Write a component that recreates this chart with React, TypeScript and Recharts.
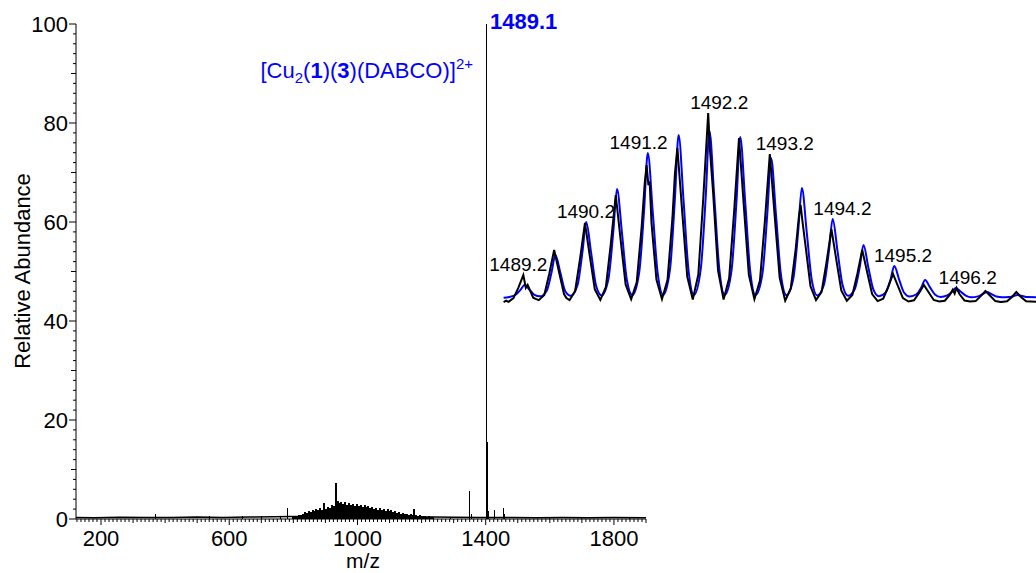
import React from 'react';
import { ComposedChart, Bar, Line, XAxis, YAxis, LabelList } from 'recharts';

const FONT = '"Liberation Sans", Arial, Helvetica, sans-serif';

// full scan: [m/z, relative abundance %]
const isolatedPeaks: [number, number][] = [
  [371, 1.0], [540, 0.6], [640, 0.6], [700, 0.7], [760, 0.6], [782, 2.2],
  [1290, 0.5], [1351, 5.6], [1356, 1.0], [1404, 100], [1405.5, 15.5],
  [1410, 1.7], [1429, 1.8], [1457, 2.2], [1460, 1.0], [1600, 0.5], [1700, 0.5], [1850, 0.5],
];

const clusterPeaks: [number, number][] = [
  [800, 0.6], [806, 0.7], [812, 0.6], [818, 0.9], [824, 0.8], [830, 1.1], [836, 1.4], [842, 1.2],
  [848, 1.7], [854, 1.5], [860, 1.9], [866, 1.6], [872, 2.0], [878, 1.8], [884, 2.2], [890, 1.9],
  [896, 3.2], [902, 2.1], [908, 2.5], [914, 2.3], [920, 2.8], [926, 2.6], [932, 7.3], [938, 3.6],
  [944, 3.2], [950, 3.5], [956, 3.1], [962, 3.4], [968, 2.9], [974, 3.2], [980, 2.8], [986, 3.1],
  [992, 2.7], [998, 3.0], [1004, 2.6], [1010, 2.9], [1016, 2.5], [1022, 2.8], [1028, 2.4], [1034, 2.6],
  [1040, 2.2], [1046, 2.4], [1052, 2.0], [1058, 2.3], [1064, 1.9], [1070, 2.2], [1076, 1.8], [1082, 2.1],
  [1088, 1.7], [1094, 2.0], [1100, 1.6], [1106, 1.8], [1112, 1.4], [1118, 1.6], [1124, 1.3], [1130, 1.4],
  [1136, 1.1], [1142, 1.3], [1148, 1.0], [1154, 1.1], [1160, 0.9], [1166, 1.0], [1172, 0.8], [1176, 2.0],
  [1182, 0.8], [1188, 0.7], [1194, 0.8], [1200, 0.6], [1206, 0.7], [1212, 0.6], [1218, 0.5], [1224, 0.6],
  [1230, 0.5], [1236, 0.4],
];

const baselineNoise: [number, number][] = [
  [122, 0.3], [180, 0.25], [260, 0.35], [340, 0.3], [420, 0.3], [500, 0.4], [580, 0.3], [660, 0.4],
  [740, 0.45], [790, 0.5], [1240, 0.4], [1300, 0.35], [1380, 0.3], [1480, 0.3], [1560, 0.25],
  [1640, 0.3], [1720, 0.25], [1800, 0.3], [1900, 0.25],
];

const xTickLabels = [200, 600, 1000, 1400, 1800];
const yTickLabels = [0, 20, 40, 60, 80, 100];

// isotope pattern inset: [m/z, intensity, tallest experimental peak = 100]
const experimental: [number, number][] = [
  [1488.88, 0.5], [1488.92, 1.2], [1488.96, 0.6],
  [1489.04, 2.6], [1489.12, 8.1], [1489.2, 14.7], [1489.24, 8], [1489.27, 9.5], [1489.36, 2.8], [1489.4, 2.2], [1489.45, 1.5],
  [1489.54, 4.2], [1489.62, 15.3], [1489.7, 27.9], [1489.78, 16.2], [1489.86, 4.7], [1489.9, 2.6], [1489.95, 1.5],
  [1490.04, 6.3], [1490.12, 23.2], [1490.2, 42.1], [1490.28, 24.4], [1490.36, 7.2], [1490.45, 1.6],
  [1490.54, 8.5], [1490.62, 31.2], [1490.7, 56.8], [1490.78, 32.9], [1490.86, 9.7], [1490.95, 2],
  [1491.04, 10.9], [1491.12, 39.9], [1491.17, 63], [1491.2, 72.6], [1491.23, 62], [1491.25, 64], [1491.28, 42.1], [1491.36, 12.3], [1491.45, 2],
  [1491.54, 12.2], [1491.62, 44.9], [1491.66, 68], [1491.7, 81.6], [1491.78, 47.3], [1491.86, 13.9], [1491.95, 1.8],
  [1492.04, 15], [1492.12, 55], [1492.2, 100], [1492.23, 80], [1492.28, 58], [1492.36, 17], [1492.45, 1.8],
  [1492.54, 13], [1492.62, 47.7], [1492.7, 86.8], [1492.78, 50.3], [1492.86, 14.8], [1492.95, 2],
  [1493.04, 11.8], [1493.12, 43.1], [1493.2, 78.4], [1493.28, 45.5], [1493.36, 13.3], [1493.45, 1.2],
  [1493.54, 7.7], [1493.62, 28.4], [1493.67, 45], [1493.7, 51.6], [1493.73, 43], [1493.78, 30], [1493.86, 8.8], [1493.95, 1.5],
  [1494.04, 5.8], [1494.12, 21.4], [1494.2, 38.9], [1494.28, 22.6], [1494.36, 6.6], [1494.45, 1.2],
  [1494.54, 4.2], [1494.62, 15.3], [1494.7, 27.9], [1494.78, 16.2], [1494.86, 4.7], [1494.95, 1],
  [1495.04, 2.3], [1495.12, 8.4], [1495.2, 15.3], [1495.28, 8.9], [1495.36, 2.6], [1495.45, 0.8],
  [1495.54, 1.4], [1495.62, 5.2], [1495.7, 9.5], [1495.78, 5.5], [1495.86, 1.6], [1495.95, 0.8],
  [1496.04, 1.2], [1496.12, 4.3], [1496.17, 7.0], [1496.2, 5.0], [1496.23, 7.9], [1496.28, 4.6], [1496.36, 1.3], [1496.45, 0.8],
  [1496.54, 1], [1496.62, 3.5], [1496.7, 6.3], [1496.78, 3.7], [1496.86, 1], [1496.95, 0.5],
  [1497.05, 0.9], [1497.13, 3.2], [1497.2, 5.8], [1497.28, 3], [1497.36, 0.9], [1497.52, 0.6],
];

const simulated: [number, number][] = [
  [1488.88, 2.8], [1488.97, 3.2],
  [1489.08, 4.5], [1489.16, 7.2], [1489.22, 9.5], [1489.3, 7], [1489.38, 4.3], [1489.47, 3.5],
  [1489.58, 6.5], [1489.66, 16.5], [1489.72, 25.3], [1489.8, 16], [1489.88, 6.2], [1489.97, 3.8],
  [1490.08, 9.5], [1490.16, 27], [1490.22, 42.6], [1490.3, 26.5], [1490.38, 9.2], [1490.47, 4],
  [1490.58, 12.5], [1490.66, 37.5], [1490.72, 60], [1490.8, 37], [1490.88, 12.2], [1490.97, 4.2],
  [1491.08, 16], [1491.16, 49], [1491.22, 78.9], [1491.3, 48], [1491.38, 15.8], [1491.47, 4.3],
  [1491.58, 17.7], [1491.66, 55], [1491.72, 88.4], [1491.8, 54], [1491.88, 17.5], [1491.97, 4.3],
  [1492.08, 18.1], [1492.16, 56], [1492.22, 90.5], [1492.3, 55.3], [1492.38, 18], [1492.47, 4.3],
  [1492.58, 17.5], [1492.66, 54], [1492.72, 87.4], [1492.8, 53.5], [1492.88, 17.3], [1492.97, 4.2],
  [1493.08, 15.3], [1493.16, 47.3], [1493.22, 76.3], [1493.3, 46.5], [1493.38, 15], [1493.47, 4.1],
  [1493.58, 12.6], [1493.66, 37.5], [1493.72, 60.5], [1493.8, 37], [1493.88, 12.3], [1493.97, 4],
  [1494.08, 9.8], [1494.16, 27.4], [1494.22, 44.2], [1494.3, 27], [1494.38, 9.6], [1494.47, 3.8],
  [1494.58, 7.4], [1494.66, 19], [1494.72, 30.5], [1494.8, 18.6], [1494.88, 7.2], [1494.97, 3.6],
  [1495.08, 5.6], [1495.16, 12.4], [1495.22, 19.5], [1495.3, 12.2], [1495.38, 5.4], [1495.47, 3.4],
  [1495.58, 4.6], [1495.66, 8.3], [1495.72, 12.1], [1495.8, 8.2], [1495.88, 4.5], [1495.97, 3.2],
  [1496.08, 4], [1496.16, 6], [1496.22, 7.9], [1496.3, 5.9], [1496.38, 3.9], [1496.47, 3],
  [1496.58, 3.5], [1496.66, 4.8], [1496.72, 5.8], [1496.8, 4.7], [1496.88, 3.4], [1496.97, 3],
  [1497.08, 3.1], [1497.16, 3.7], [1497.22, 4.2], [1497.3, 3.7], [1497.38, 3.1], [1497.52, 3],
];

const peakLabels = [1489.2, 1490.2, 1491.2, 1492.2, 1493.2, 1494.2, 1495.2, 1496.2];

const mainRows = [
  ...isolatedPeaks.map(([mz, ab]) => ({ mz, ab, dense: false })),
  ...clusterPeaks.map(([mz, ab]) => ({ mz, ab, dense: true })),
  ...baselineNoise.map(([mz, base]) => ({ mz, base })),
].sort((a, b) => a.mz - b.mz);

const expRows = experimental.map(([mz, v]) => ({ mz, v }));
const simRows = simulated.map(([mz, v]) => ({ mz, v }));

const topNear = (mz: number) =>
  Math.max(...[...experimental, ...simulated].filter(([m]) => Math.abs(m - mz) < 0.05).map(([, v]) => v));

const labelRows = peakLabels.map((mz) => ({ mz, top: topNear(mz), text: mz.toFixed(1) }));

// label nudges so the text clears the traces
const labelDx = [-5, 1, -8, 11, 15, 11, 10, 13];

const xTicks: number[] = [];
for (let v = 125; v <= 1900; v += 12.5) xTicks.push(v);
const yTicks: number[] = [];
for (let v = 0; v <= 100; v += 2) yTicks.push(v);

const XTick = (props: any) => {
  const { x, y, payload } = props;
  const v = payload.value;
  const major = xTickLabels.includes(v);
  const len = major ? 6 : v % 100 === 0 ? 4 : 3;
  return (
    <g>
      <line x1={x} y1={y} x2={x} y2={y + len} stroke="#000" strokeWidth={1} />
      {major && (
        <text x={x} y={y + 27} textAnchor="middle" fontSize={22} fontFamily={FONT} fill="#000">
          {v}
        </text>
      )}
    </g>
  );
};

const YTick = (props: any) => {
  const { x, y, payload } = props;
  const v = payload.value;
  const major = yTickLabels.includes(v);
  const len = major ? 7 : v % 10 === 0 ? 5 : 3;
  return (
    <g>
      <line x1={x - len} y1={y} x2={x} y2={y} stroke="#000" strokeWidth={1} />
      {major && (
        <text x={x - 8} y={y + 8} textAnchor="end" fontSize={22} fontFamily={FONT} fill="#000">
          {v}
        </text>
      )}
    </g>
  );
};

const StickShape = (props: any) => {
  const { x, y, width, height, payload } = props;
  if (!height || height <= 0) return <g />;
  const w = payload.dense ? 2 : 1;
  const cx = x + width / 2;
  return <rect x={cx - w / 2} y={y} width={w} height={height} fill="#000" shapeRendering="crispEdges" />;
};

const PeakLabel = (props: any) => {
  const { x, y, value, index } = props;
  return (
    <text x={x + labelDx[index]} y={y - 4} textAnchor="middle" fontSize={19} fontFamily={FONT} fill="#000">
      {value}
    </text>
  );
};

export default function App() {
  return (
    <div style={{ position: 'absolute', left: 0, top: 0, width: 1036, height: 573, background: '#fff', fontFamily: FONT }}>
      <ComposedChart width={1036} height={573} data={mainRows} margin={{ top: 24, right: 390, bottom: 14, left: 0 }}>
        <XAxis
          type="number"
          dataKey="mz"
          domain={[122, 1900]}
          ticks={xTicks}
          interval={0}
          tick={<XTick />}
          tickLine={false}
          tickSize={0}
          tickMargin={0}
          height={40}
          axisLine={{ stroke: '#000' }}
          allowDataOverflow
        />
        <YAxis
          type="number"
          domain={[0, 100]}
          ticks={yTicks}
          interval={0}
          tick={<YTick />}
          tickLine={false}
          tickSize={0}
          tickMargin={0}
          width={76}
          axisLine={{ stroke: '#000' }}
          allowDataOverflow
        />
        <Line dataKey="base" stroke="#000" strokeWidth={1.5} dot={false} connectNulls isAnimationActive={false} />
        <Bar dataKey="ab" fill="#000" barSize={1} shape={<StickShape />} isAnimationActive={false} />
      </ComposedChart>

      <div style={{ position: 'absolute', left: 463, top: 0 }}>
        <ComposedChart width={573} height={573} margin={{ top: 113, right: 0, bottom: 270, left: 40 }}>
          <XAxis type="number" dataKey="mz" domain={[1488.87, 1497.52]} hide allowDataOverflow />
          <YAxis type="number" domain={[0, 100]} hide allowDataOverflow />
          <Line data={simRows} dataKey="v" type="monotone" stroke="#0000ff" strokeWidth={2} dot={false} isAnimationActive={false} />
          <Line data={expRows} dataKey="v" type="linear" stroke="#000" strokeWidth={2} dot={false} isAnimationActive={false} />
          <Line data={labelRows} dataKey="top" stroke="none" dot={false} isAnimationActive={false}>
            <LabelList dataKey="text" content={<PeakLabel />} />
          </Line>
        </ComposedChart>
      </div>

      <svg width={1036} height={573} style={{ position: 'absolute', left: 0, top: 0, pointerEvents: 'none' }} fontFamily={FONT}>
        <text x={490} y={29} fill="#0000ff" fontWeight="bold" fontSize={22}>1489.1</text>
        <text x={473} y={78} textAnchor="end" fill="#0000ff" fontSize={22}>
          [Cu<tspan fontSize={15} dy={5}>2</tspan>
          <tspan dy={-5}>(</tspan>
          <tspan fontWeight="bold">1</tspan>
          <tspan>)(</tspan>
          <tspan fontWeight="bold">3</tspan>
          <tspan>)(DABCO)]</tspan>
          <tspan fontSize={15} dy={-9}>2+</tspan>
        </text>
        <text transform="rotate(-90)" x={-271} y={30} textAnchor="middle" fontSize={22} fill="#000">Relative Abundance</text>
        <text x={363} y={568} textAnchor="middle" fontSize={21} fill="#000">m/z</text>
      </svg>
    </div>
  );
}
